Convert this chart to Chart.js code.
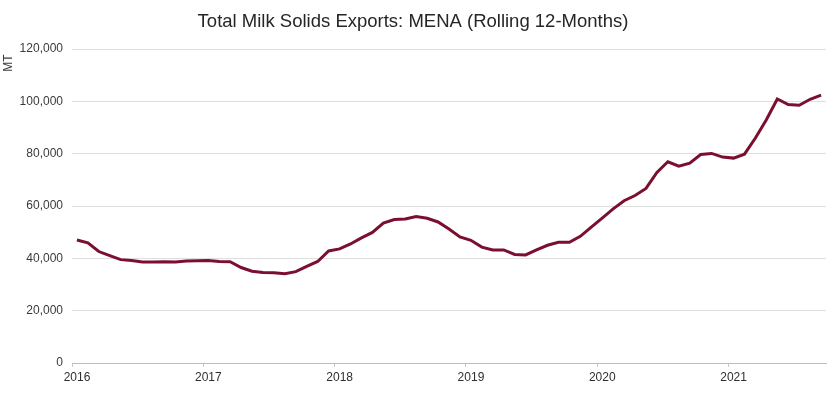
<!DOCTYPE html>
<html>
<head>
<meta charset="utf-8">
<title>Total Milk Solids Exports: MENA</title>
<script src="https://cdn.jsdelivr.net/npm/chart.js@4.4.1/dist/chart.umd.min.js"></script>
<style>
  html, body { margin: 0; padding: 0; background: #fff; }
  #wrap { width: 830px; height: 400px; }
</style>
</head>
<body>
<div id="wrap"><canvas id="milkChart"></canvas></div>
<script>
// first month of the series and the year labels on the x axis
const startYear = 2016;
const yearLabels = ["2016", "2017", "2018", "2019", "2020", "2021"];

// rolling 12-month exports (MT), monthly Jan 2016 - Sep 2021
const exportsMT = [
  47000, 45900, 42600, 41000, 39500, 39200, 38600, 38600, 38700, 38600, 39000, 39100,
  39200, 38800, 38700, 36500, 35100, 34600, 34500, 34100, 34900, 36900, 38800, 42800,
  43600, 45500, 47800, 49900, 53500, 54800, 55000, 56000, 55300, 53900, 51200, 48200,
  46900, 44300, 43200, 43200, 41500, 41300, 43200, 45000, 46100, 46100, 48400, 51900,
  55400, 58900, 62000, 64000, 66700, 72800, 76900, 75200, 76400, 79700, 80100, 78700,
  78300, 79800, 86000, 93000, 100900, 98800, 98500, 100800, 102400
];

// y axis ticks
const yTicks = [0, 20000, 40000, 60000, 80000, 100000, 120000];

// months counted from Jan 2016, each point sits mid-month
const points = exportsMT.map((v, i) => ({ x: i + 0.45, y: v }));
const yearTickValues = yearLabels.map((y, i) => i * 12);

const fontFamily = "'Liberation Sans', Arial, sans-serif";

// "MT" unit label at the top-left, rotated
const unitLabel = {
  id: 'unitLabel',
  afterDraw(chart) {
    const c = chart.ctx;
    c.save();
    c.translate(9, 63);
    c.rotate(-Math.PI / 2);
    c.font = "12px " + fontFamily;
    c.fillStyle = '#3a3a3a';
    c.textAlign = 'center';
    c.textBaseline = 'middle';
    c.fillText('MT', 0, 0);
    c.restore();
  }
};

new Chart(document.getElementById('milkChart'), {
  type: 'line',
  data: {
    datasets: [{
      label: 'Total Milk Solids Exports: MENA',
      data: points,
      borderColor: '#7a0f2f',
      borderWidth: 3,
      pointRadius: 0,
      tension: 0,
      fill: false
    }]
  },
  options: {
    responsive: true,
    maintainAspectRatio: false,
    animation: false,
    layout: { padding: { left: 0, right: 4, top: 0, bottom: 0 } },
    plugins: {
      legend: { display: false },
      tooltip: { enabled: false },
      title: {
        display: true,
        text: 'Total Milk Solids Exports: MENA (Rolling 12-Months)',
        color: '#262626',
        font: { family: fontFamily, size: 18.5, weight: 'normal' },
        padding: { top: 11, bottom: 15.8 }
      }
    },
    scales: {
      x: {
        type: 'linear',
        min: 0,
        max: 68.9,
        afterBuildTicks(scale) {
          scale.ticks = yearTickValues.map(v => ({ value: v }));
        },
        afterFit(scale) { scale.height = 37; },
        ticks: {
          color: '#2e2e2e',
          font: { family: fontFamily, size: 12 },
          padding: 3,
          labelOffset: 5,
          maxRotation: 0,
          callback: (v) => String(startYear + v / 12)
        },
        grid: {
          drawOnChartArea: false,
          drawTicks: true,
          tickLength: 4,
          color: '#c8c8c8'
        },
        border: { display: true, color: '#bdbdbd', width: 1 }
      },
      y: {
        min: 0,
        max: 120000,
        afterBuildTicks(scale) {
          scale.ticks = yTicks.map(v => ({ value: v }));
        },
        afterFit(scale) { scale.width = 72; },
        ticks: {
          color: '#3a3a3a',
          font: { family: fontFamily, size: 12 },
          padding: 9,
          callback: (v) => v.toLocaleString('en-US')
        },
        grid: {
          color: '#dedede',
          lineWidth: 1,
          drawTicks: false
        },
        border: { display: false }
      }
    }
  },
  plugins: [unitLabel]
});
</script>
</body>
</html>
